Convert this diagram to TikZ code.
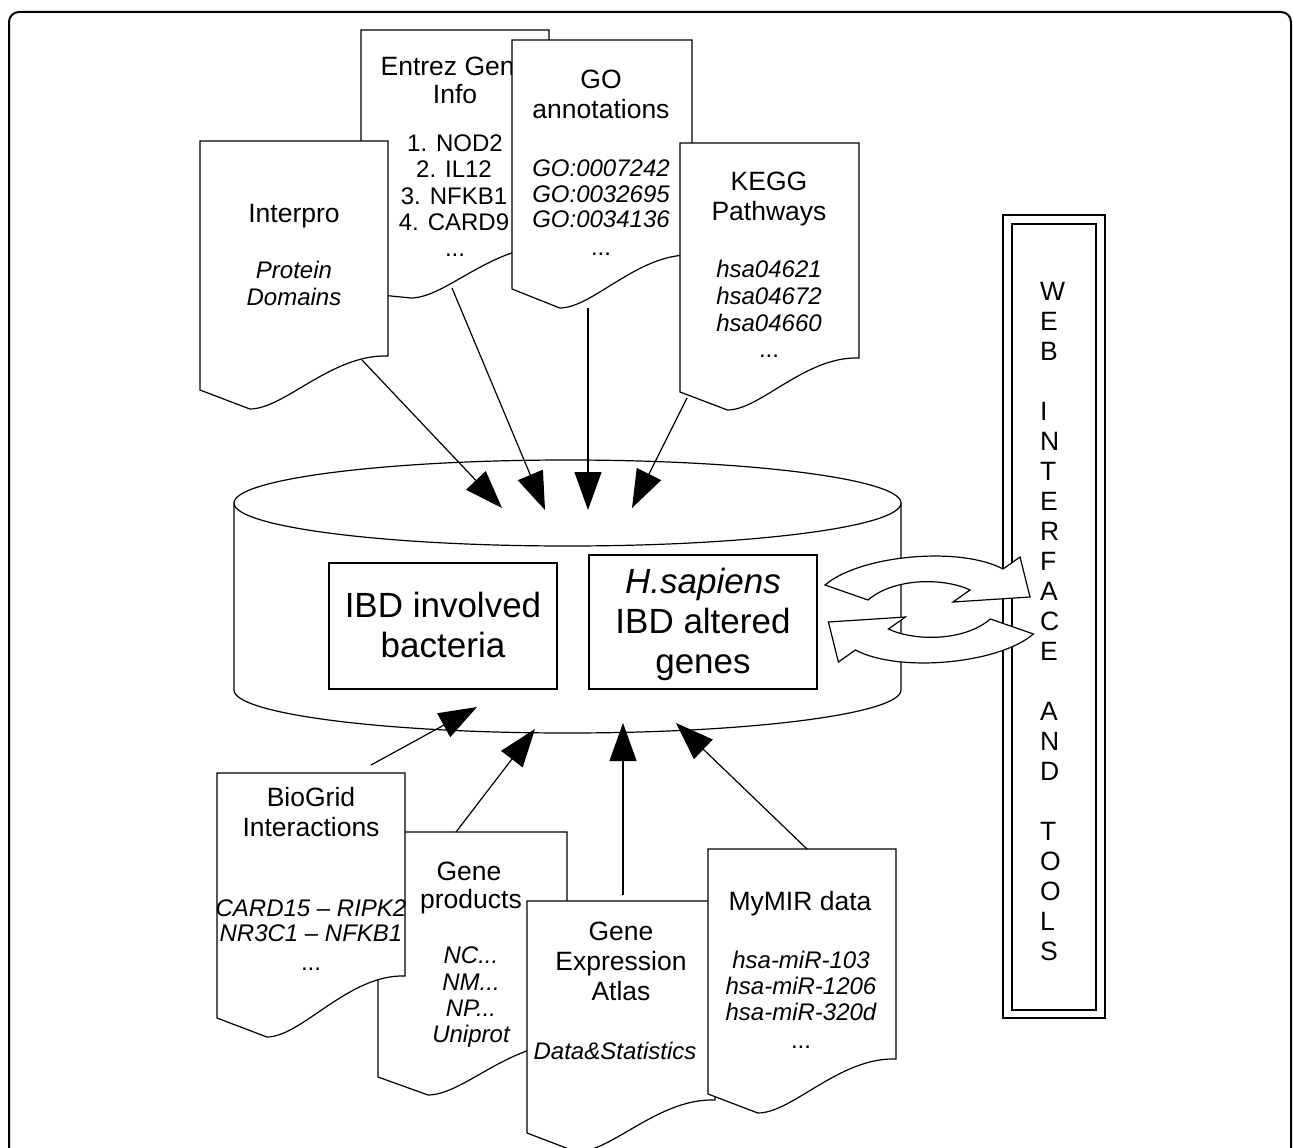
\documentclass[tikz,border=0pt]{standalone}
\usepackage{fontspec}
\setmainfont{Liberation Sans}
\usetikzlibrary{arrows.meta}
\tikzset{
  ln/.style={line width=1.2pt, draw=black},
  doc/.style={ln, fill=white},
  ttl/.style={inner sep=0pt, anchor=base, font=\fontsize{26.5}{30}\selectfont},
  dat/.style={inner sep=0pt, anchor=base, font=\fontsize{24}{27}\selectfont\itshape},
  lst/.style={inner sep=0pt, anchor=base, font=\fontsize{24}{27}\selectfont},
  big/.style={align=center, font=\fontsize{35}{40}\selectfont, inner sep=0pt},
  arr/.style={ln, -{Triangle[length=38pt,width=27pt]}},
  ibox/.style={ln, fill=white, minimum width=228pt, inner sep=0pt},
}
% document shape: x1, x2, ytop, yleft, ylow, yright
\newcommand{\docshape}[6]{%
  \draw[doc] (#1,#4) -- (#1,#3) -- (#2,#3) -- (#2,#6)
    .. controls ({#2-0.3*(#2-#1)},{#6-2}) and ({#1+0.45*(#2-#1)},#5) ..
    ({#1+0.265*(#2-#1)},#5) -- cycle;}
\begin{document}
\begin{tikzpicture}[x=1pt,y=-1pt]
\useasboundingbox (0,0) rectangle (1293,1148);
\fill[white] (0,0) rectangle (1293,1148);
% outer frame
\draw[line width=2pt, rounded corners=10pt] (9,1160) -- (9,12) -- (1291,12) -- (1291,1160);

% ---------- database cylinder ----------
\fill[white] (234,503) rectangle (901,690);
\draw[ln] (234,503) -- (234,690)
  .. controls (234,713.7) and (383.3,733) .. (567.5,733)
  .. controls (751.7,733) and (901,713.7) .. (901,690) -- (901,503);
\draw[ln, fill=white] (567.5,503) ellipse [x radius=333.5, y radius=43];
\node[ibox, draw, minimum height=126pt] (bact) at (443,626) {};
\node[big] (bacttxt) at (443,625) {IBD involved\\bacteria};
\node[ibox, draw, minimum height=134pt] (hsap) at (703,622) {};
\node[big] (hsaptxt) at (703,624) {\itshape H.sapiens\\IBD altered\\genes};

% ---------- web interface ----------
\node[ln, draw, minimum width=102pt, minimum height=803pt, inner sep=0pt] (web) at (1054,616.5) {};
\node[ln, draw, minimum width=84pt, minimum height=786pt, inner sep=0pt] (webin) at (1054,617) {};
\node[inner sep=0pt, anchor=west, align=left, font=\fontsize{26.5}{30}\selectfont] (webtxt) at (1040,621.5)
  {W\\E\\B\\[30pt]I\\N\\T\\E\\R\\F\\A\\C\\E\\[30pt]A\\N\\D\\[30pt]T\\O\\O\\L\\S};

% ---------- exchange arrows ----------
\draw[ln, fill=white] (825,585) .. controls (860,555) and (960,546) .. (1003,569)
  -- (1020,557) -- (1030,597) -- (953,602) -- (970,590)
  .. controls (945,578) and (895,577) .. (868,600) -- cycle;
\draw[ln, fill=white, rotate around={180:(929.2,609.5)}] (825,585) .. controls (860,555) and (960,546) .. (1003,569)
  -- (1020,557) -- (1030,597) -- (953,602) -- (970,590)
  .. controls (945,578) and (895,577) .. (868,600) -- cycle;

% ---------- top documents ----------
% Entrez
\docshape{361}{549}{30}{293}{298}{247}
\node[ttl] (ent0) at (455,75) {Entrez Gene};
\node[ttl] (ent1) at (455,103) {Info};
\node[lst] (ent2) at (455,151.7) {1. NOD2};
\node[lst] (ent3) at (454,177.7) {2. IL12};
\node[lst] (ent4) at (454,204.3) {3. NFKB1};
\node[lst] (ent5) at (454,230) {4. CARD9};
\node[lst] (ent6) at (455,256.7) {...};
% Interpro
\docshape{200}{388}{141}{390}{409}{356}
\node[ttl] (ip0) at (294,222) {Interpro};
\node[dat] (ip1) at (294,278) {Protein};
\node[dat] (ip2) at (294,305) {Domains};
% GO
\docshape{512}{692}{40}{289}{308}{255}
\node[ttl] (go0) at (601,88.3) {GO};
\node[ttl] (go1) at (601,118.3) {annotations};
\node[dat] (go2) at (601,176.7) {GO:0007242};
\node[dat] (go3) at (601,202) {GO:0032695};
\node[dat] (go4) at (601,227.3) {GO:0034136};
\node[lst] (go5) at (601,255) {...};
% KEGG
\docshape{680}{859}{143}{392}{410}{358}
\node[ttl] (kg0) at (769,190) {KEGG};
\node[ttl] (kg1) at (769,220) {Pathways};
\node[dat] (kg2) at (769,277.7) {hsa04621};
\node[dat] (kg3) at (769,304.3) {hsa04672};
\node[dat] (kg4) at (769,331) {hsa04660};
\node[lst] (kg5) at (769,357.7) {...};

% ---------- bottom documents ----------
% Gene products
\docshape{378}{567}{832}{1077}{1095}{1044}
\node[ttl] (gp0) at (469,880) {Gene};
\node[ttl] (gp1) at (471,908.3) {products};
\node[dat] (gp2) at (471,963.3) {NC...};
\node[dat] (gp3) at (471,990) {NM...};
\node[dat] (gp4) at (471,1016.7) {NP...};
\node[dat] (gp5) at (471,1042.7) {Uniprot};
% BioGrid
\docshape{217}{405}{773}{1018}{1037}{976}
\node[ttl] (bg0) at (311,806) {BioGrid};
\node[ttl] (bg1) at (311,836.7) {Interactions};
\node[dat] (bg2) at (311,916.7) {CARD15 – RIPK2};
\node[dat] (bg3) at (311,941.7) {NR3C1 – NFKB1};
\node[lst] (bg4) at (311,970) {...};
% Gene Expression Atlas
\docshape{527}{715}{901}{1133}{1152}{1100}
\node[ttl] (ge0) at (621,940) {Gene};
\node[ttl] (ge1) at (621,970) {Expression};
\node[ttl] (ge2) at (621,1000) {Atlas};
\node[dat] (ge3) at (615,1059.3) {Data\&Statistics};
% MyMIR
\docshape{708}{896}{849}{1094}{1113}{1059}
\node[ttl] (mm0) at (800,910.7) {MyMIR data};
\node[dat] (mm1) at (801,968.3) {hsa-miR-103};
\node[dat] (mm2) at (801,994) {hsa-miR-1206};
\node[dat] (mm3) at (801,1020) {hsa-miR-320d};
\node[lst] (mm4) at (801,1048.3) {...};

% ---------- connectors ----------
\coordinate (ipout) at (362,360);
\coordinate (entout) at (452,288);
\coordinate (goout) at (588,308);
\coordinate (kgout) at (687,398);
\coordinate (dbin1) at (502,508);
\coordinate (dbin2) at (545,510);
\coordinate (dbin3) at (588,510);
\coordinate (dbin4) at (632,508);
\coordinate (bgout) at (371,765);
\coordinate (gpout) at (456,832);
\coordinate (geout) at (623,895);
\coordinate (mmout) at (807,849);
\coordinate (dbin5) at (477,707);
\coordinate (dbin6) at (535,729);
\coordinate (dbin7) at (623,723);
\coordinate (dbin8) at (676,723);
\draw[arr] (ipout) -- (dbin1);
\draw[arr] (entout) -- (dbin2);
\draw[arr] (goout) -- (dbin3);
\draw[arr] (kgout) -- (dbin4);
\draw[arr] (bgout) -- (dbin5);
\draw[arr] (gpout) -- (dbin6);
\draw[arr] (geout) -- (dbin7);
\draw[arr] (mmout) -- (dbin8);
\end{tikzpicture}
\end{document}
